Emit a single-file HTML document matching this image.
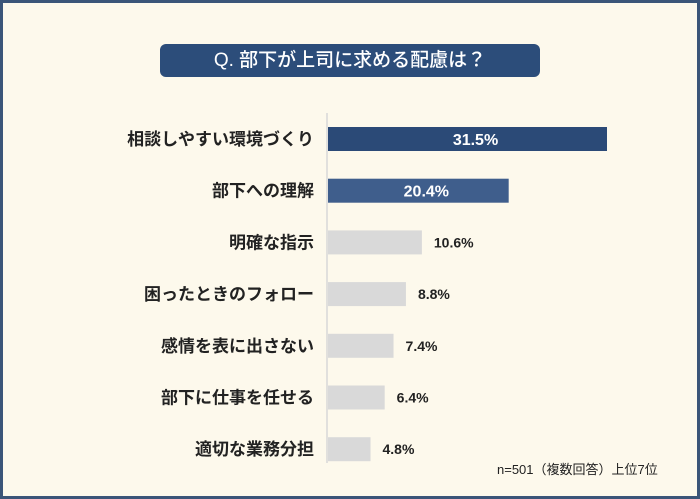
<!DOCTYPE html>
<html><head><meta charset="utf-8"><style>
html,body{margin:0;padding:0}
body{width:700px;height:499px;overflow:hidden;font-family:"Liberation Sans","Noto Sans CJK JP",sans-serif}
#frame{position:absolute;left:0;top:0;width:694px;height:493px;border:3px solid #3b5578;background:#fdf9ec}
#title{position:absolute;left:160px;top:44px;width:380px;height:33px;background:#2c4d7a;border-radius:6px;color:#fff;font-size:19px;line-height:33px;text-align:center;font-weight:500}
#note{position:absolute;left:497px;top:459px;font-size:13px;color:#222}
</style></head><body>
<div id="frame"></div>
<div id="title">Q. 部下が上司に求める配慮は？</div>
<svg id="chart" width="700" height="499" style="position:absolute;left:0;top:0"></svg>
<div id="note">n=501（複数回答）上位7位</div>
<script>
const categories=["相談しやすい環境づくり","部下への理解","明確な指示","困ったときのフォロー","感情を表に出さない","部下に仕事を任せる","適切な業務分担"];
const values=[31.5,20.4,10.6,8.8,7.4,6.4,4.8];
const svg=document.getElementById('chart');
const NS='http://www.w3.org/2000/svg';
const x0=328, pxPer=279/31.5;
const xs=v=>v*pxPer;
const yc=i=>139+i*51.7;
const axis=document.createElementNS(NS,'line');
axis.setAttribute('x1',327);axis.setAttribute('x2',327);axis.setAttribute('y1',113);axis.setAttribute('y2',463);
axis.setAttribute('stroke','#d8d8d8');axis.setAttribute('stroke-width','1.5');


svg.appendChild(axis);
categories.forEach((c,i)=>{
  const y=yc(i);
  const t=document.createElementNS(NS,'text');
  t.setAttribute('x',314);t.setAttribute('y',y+6);t.setAttribute('text-anchor','end');
  t.setAttribute('font-size','17');t.setAttribute('font-weight','bold');t.setAttribute('fill','#222');t.textContent=c;
  
  
  svg.appendChild(t);
  const r=document.createElementNS(NS,'rect');
  const w=xs(values[i]);
  r.setAttribute('x',x0);r.setAttribute('y',y-12);r.setAttribute('width',w);r.setAttribute('height',24);
  r.setAttribute('fill',i===0?'#2b4a77':(i===1?'#3f5e8c':'#d9d9d9'));
  
  
  svg.appendChild(r);
  const v=document.createElementNS(NS,'text');
  const inside=i<2;
  v.setAttribute('x',inside?x0+w/2+8:x0+w+12);v.setAttribute('y',y+(inside?6:5));
  v.setAttribute('text-anchor',inside?'middle':'start');
  v.setAttribute('font-size',inside?'16':'14');v.setAttribute('font-weight','bold');v.setAttribute('fill',inside?'#fff':'#222');
  v.textContent=values[i].toFixed(1)+'%';
  
  
  svg.appendChild(v);
});
</script>
</body></html>
